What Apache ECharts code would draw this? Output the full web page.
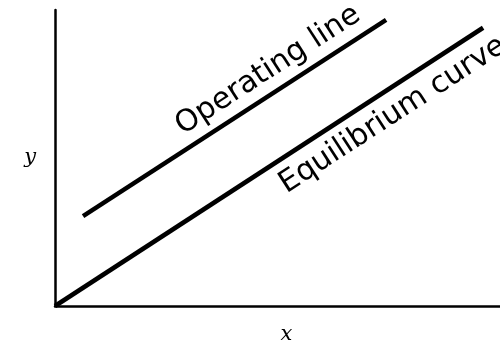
<!DOCTYPE html>
<html>
<head>
<meta charset="utf-8">
<script src="https://cdn.jsdelivr.net/npm/echarts@6/dist/echarts.min.js"></script>
<style>
    html, body { margin: 0; padding: 0; background: #fff; }
    #chart { width: 500px; height: 350px; }
</style>
</head>
<body>
<div id="chart"></div>
<script>
// operating line and equilibrium curve, as [x, y] in 0..1 units
var operatingLine = [[0.063, 0.304], [0.744, 0.967]];
var equilibriumCurve = [[0, 0], [0.962, 0.940]];

// where the two rotated labels sit
var operatingLabelAt = [0.479, 0.796];
var equilibriumLabelAt = [0.759, 0.645];

var labelFont = {
    fontFamily: 'DejaVu Sans',
    fontSize: 30,
    color: '#000'
};

option = {
    animation: false,
    grid: {
        left: 55,
        right: 0,
        top: 10,
        bottom: 41
    },
    xAxis: {
        type: 'value',
        min: 0,
        max: 1,
        name: 'x',
        nameLocation: 'middle',
        nameGap: 18,
        nameTextStyle: {
            fontFamily: 'DejaVu Serif',
            fontStyle: 'italic',
            fontSize: 21,
            color: '#000',
            padding: [0, 0, 0, 18]
        },
        axisLine: {lineStyle: {color: '#000', width: 2.5}},
        axisTick: {show: false},
        axisLabel: {show: false},
        splitLine: {show: false}
    },
    yAxis: {
        type: 'value',
        min: 0,
        max: 1,
        name: 'y',
        nameLocation: 'middle',
        nameGap: 19,
        nameRotate: 0,
        nameTextStyle: {
            fontFamily: 'DejaVu Serif',
            fontStyle: 'italic',
            fontSize: 21,
            color: '#000'
        },
        axisLine: {show: true, lineStyle: {color: '#000', width: 2.5}},
        axisTick: {show: false},
        axisLabel: {show: false},
        splitLine: {show: false}
    },
    series: [
        {
            name: 'Operating line',
            type: 'line',
            data: operatingLine,
            symbol: 'none',
            clip: false,
            lineStyle: {color: '#000', width: 4.5},
            markPoint: {
                symbol: 'circle',
                symbolSize: 0,
                data: [{
                    coord: operatingLabelAt,
                    label: Object.assign({
                        show: true,
                        position: 'inside',
                        rotate: 33,
                        formatter: 'Operating line'
                    }, labelFont)
                }]
            }
        },
        {
            name: 'Equilibrium curve',
            type: 'line',
            data: equilibriumCurve,
            symbol: 'none',
            clip: false,
            lineStyle: {color: '#000', width: 4.5},
            markPoint: {
                symbol: 'circle',
                symbolSize: 0,
                data: [{
                    coord: equilibriumLabelAt,
                    label: Object.assign({
                        show: true,
                        position: 'inside',
                        rotate: 33,
                        formatter: 'Equilibrium curve'
                    }, labelFont)
                }]
            }
        }
    ]
};

var myChart = echarts.init(document.getElementById('chart'));
myChart.setOption(option);
</script>
</body>
</html>
